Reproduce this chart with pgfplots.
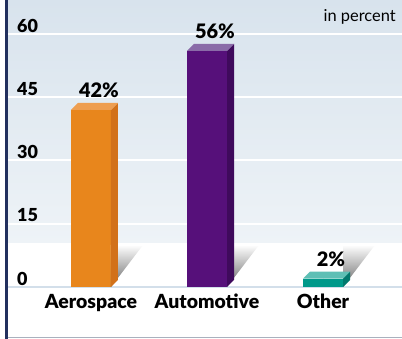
\documentclass[border=0pt]{standalone}
\usepackage{pgfplots}
\pgfplotsset{compat=1.18}
\usepackage{fontspec}
\setmainfont{Lato}[BoldFont={Lato Black}]
\definecolor{bgtop}{HTML}{D8E3ED}
\definecolor{bgbot}{HTML}{EEF3F7}
\definecolor{navy}{HTML}{22305E}
\definecolor{zeroline}{HTML}{D3DFEA}
\definecolor{botline}{HTML}{A9B1BE}
\definecolor{orF}{HTML}{E8861C}
\definecolor{orS}{HTML}{D2711A}
\definecolor{orT}{HTML}{EE9E50}
\definecolor{puF}{HTML}{56107A}
\definecolor{puS}{HTML}{3F0A5C}
\definecolor{puT}{HTML}{8A6BA8}
\definecolor{teF}{HTML}{00998A}
\definecolor{teS}{HTML}{00786D}
\definecolor{teT}{HTML}{5EBFB5}
\def\upu{4.2166}
\pgfplotsset{
  faces/.style 2 args={
    only marks, mark=*, mark size=0pt, scatter, draw=none, fill=none,
    visualization depends on={rawy \as \yv},
    scatter/@pre marker code/.code={%
      \pgfmathsetmacro\bb{-\yv*\upu}%
      \pgfmathsetmacro\bc{\bb+7}%
      \fill[#1] (20bp,0bp) -- (27bp,7bp) -- (27bp,\bc bp) -- (20bp,\bb bp) -- cycle;
      \fill[#2] (-20bp,0bp) -- (20bp,0bp) -- (27bp,7bp) -- (-13bp,7bp) -- cycle;
    },
    scatter/@post marker code/.code={},
  },
  shadowstyle/.style={
    only marks, mark=*, mark size=0pt, scatter, draw=none, fill=none,
    visualization depends on={rawy \as \yv},
    scatter/@pre marker code/.code={%
      \pgfmathsetmacro\bb{-\yv*\upu}%
      \pgfmathsetmacro\bt{\bb+42}%
      \shade[top color=white, bottom color=black!60] (20bp,\bb bp) -- (52bp,\bt bp) -- (20bp,\bt bp) -- cycle;
    },
    scatter/@post marker code/.code={},
  },
  frontbar/.style={
    ybar, bar width=40bp, bar shift=0pt, fill=#1, draw=none,
    nodes near coords={\pgfmathprintnumber{\pgfplotspointmeta}\%},
    every node near coord/.append style={font=\bfseries\fontsize{20}{20}\selectfont, anchor=base, xshift=8bp, yshift=12bp, text=black, inner sep=0pt},
  },
}
\begin{document}
\begin{tikzpicture}
\begin{axis}[
  set layers,
  scale only axis, width=395.5bp, height=337.5bp,
  anchor=south west, at={(6.5bp,1.5bp)},
  xmin=-0.7284, xmax=2.6810, ymin=-11.976, ymax=68.06,
  axis x line*=bottom, axis y line*=left,
  x axis line style={botline, line width=1.2bp},
  y axis line style={navy, line width=3bp},
  xtick={0,1,2}, xticklabels={Aerospace,Automotive,Other},
  ytick={15,30,45,60},
  yticklabels={\textbf{15},\textbf{30},\textbf{45},\textbf{60}},
  extra y ticks={0},
  extra y tick labels={\textbf{0}},
  extra y tick style={grid style={zeroline, line width=2bp}},
  ymajorgrids, grid style={white, line width=2bp},
  major tick length=0pt,
  tick style={draw=none},
  xticklabel style={font=\bfseries\fontsize{19.5}{19.5}\selectfont, anchor=base, yshift=29.5bp},
  yticklabel style={font=\bfseries\fontsize{18}{18}\selectfont, anchor=south west, xshift=10.5bp, yshift=1.5bp, inner sep=0pt},
  /pgf/number format/assume math mode=true,
  clip=false,
]
\begin{pgfonlayer}{axis background}
  \shade[top color=bgtop, bottom color=bgbot] (rel axis cs:0,1) rectangle (axis cs:2.681,10.43);
  \fill[white] (rel axis cs:0,0) rectangle (axis cs:2.681,10.43);
\end{pgfonlayer}
\addplot[shadowstyle] coordinates {(0,42) (1,56) (2,2)};
\addplot[frontbar=orF] coordinates {(0,42)};
\addplot[faces={orS}{orT}] coordinates {(0,42)};
\addplot[frontbar=puF] coordinates {(1,56)};
\addplot[faces={puS}{puT}] coordinates {(1,56)};
\addplot[frontbar=teF] coordinates {(2,2)};
\addplot[faces={teS}{teT}] coordinates {(2,2)};
\end{axis}
\fill[navy] (5bp,0bp) rectangle (8bp,2bp);
\node[anchor=base east, font=\fontsize{16.5}{16.5}\selectfont, inner sep=0pt] at (396bp,317bp) {in percent};
\pgfresetboundingbox
\path[use as bounding box] (0,0) rectangle (402bp,339bp);
\end{tikzpicture}
\end{document}
